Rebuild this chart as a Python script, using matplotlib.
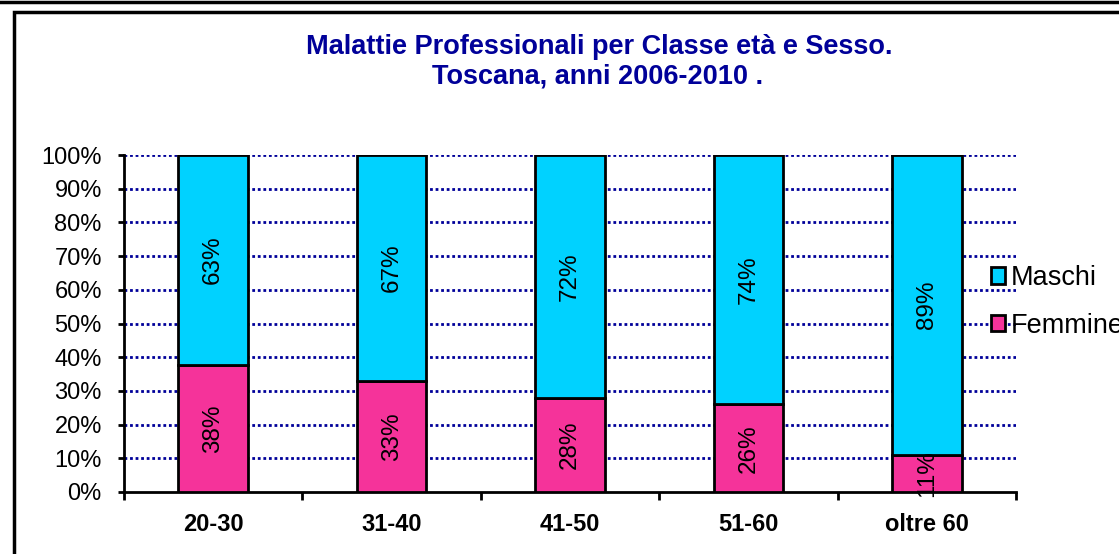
import matplotlib
matplotlib.use("Agg")
import matplotlib.pyplot as plt
from matplotlib.patches import Rectangle

# dati
classi = ["20-30", "31-40", "41-50", "51-60", "oltre 60"]
femmine = [38, 33, 28, 26, 11]
maschi = [63, 67, 72, 74, 89]

COL_M = "#00D2FF"
COL_F = "#F5339A"
NAVY = "#000099"

plt.rcParams["font.family"] = ["Liberation Sans", "DejaVu Sans"]

W, H = 1119, 554
fig = plt.figure(figsize=(W / 100, H / 100), dpi=100)

# cornici del foglio
fig.patches.append(Rectangle((-5 / W, 1 - 2 / H), 1.1, 10 / H, transform=fig.transFigure,
                             fill=False, lw=2.5, ec="black"))
fig.patches.append(Rectangle((13.5 / W, -0.1), 1.1, 1.1 - 11.5 / H, transform=fig.transFigure,
                             fill=False, lw=2.5, ec="black"))

ax = fig.add_axes([124 / W, 1 - 492 / H, (1016 - 124) / W, (492 - 155) / H])

x = list(range(len(classi)))
tot = [f + m for f, m in zip(femmine, maschi)]
f_pct = [100 * f / t for f, t in zip(femmine, tot)]
m_pct = [100 * m / t for m, t in zip(maschi, tot)]

bw = 0.39
bf = ax.bar(x, f_pct, width=bw, color=COL_F, edgecolor="black", lw=2, label="Femmine", zorder=3)
bm = ax.bar(x, m_pct, width=bw, bottom=f_pct, color=COL_M, edgecolor="black", lw=2,
            label="Maschi", zorder=3)

for i in x:
    ax.text(i, f_pct[i] / 2, f"{femmine[i]}%", rotation=90, ha="center", va="center",
            fontsize=17.5, zorder=4)
    ax.text(i, f_pct[i] + m_pct[i] / 2, f"{maschi[i]}%", rotation=90, ha="center", va="center",
            fontsize=17.5, zorder=4)

ax.set_xlim(-0.5, len(classi) - 0.5)
ax.set_ylim(0, 100)
ax.set_yticks(range(0, 101, 10))
ax.set_yticklabels([f"{v}%" for v in range(0, 101, 10)], fontsize=17)
for v in range(10, 101, 10):
    ax.axhline(v, color=NAVY, lw=2, ls=(0, (1, 1)), zorder=1)

ax.set_xticks(x)
ax.set_xticklabels(classi, fontsize=17, fontweight="bold")
ax.tick_params(axis="x", length=0, pad=15)
ax.set_xticks([i - 0.5 for i in range(len(classi) + 1)], minor=True)
ax.tick_params(axis="x", which="minor", length=6, width=2, direction="out")
ax.tick_params(axis="y", length=4.5, width=2, pad=11.5)

for s in ("top", "right"):
    ax.spines[s].set_visible(False)
for s in ("left", "bottom"):
    ax.spines[s].set_linewidth(2)

fig.text(599 / W, 1 - 47 / H, "Malattie Professionali per Classe età e Sesso.", ha="center",
         va="center", fontsize=19.5, fontweight="bold", color=NAVY)
fig.text(598 / W, 1 - 77 / H, "Toscana, anni 2006-2010 .", ha="center", va="center",
         fontsize=19.5, fontweight="bold", color=NAVY)

# la legenda esce dal bordo destro come nell'originale
leg = fig.legend(handles=[bm, bf], loc="center left", bbox_to_anchor=(977 / W, 1 - 302 / H),
                 frameon=False, fontsize=19.5, handlelength=0.55, handleheight=0.55,
                 handletextpad=0.2, labelspacing=0.8, borderpad=0)

fig.savefig("out.png", dpi=100)
